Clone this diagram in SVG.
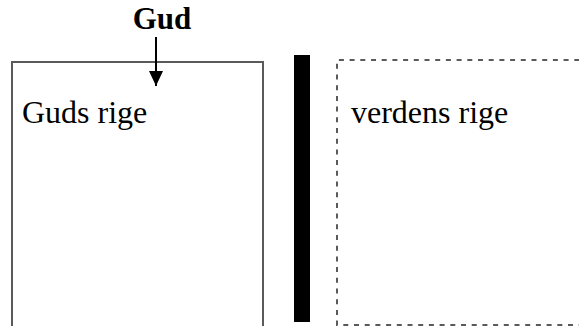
<svg xmlns="http://www.w3.org/2000/svg" width="579" height="326" viewBox="0 0 579 326">
  <style>
    .t { font-family: 'Liberation Serif', 'Times New Roman', 'DejaVu Serif', serif; font-size: 32px; fill: #000; }
    .b { font-weight: bold; font-size: 31px; }
    .box { fill: none; stroke: #5a5a5a; stroke-width: 2; }
    .dash { stroke-dasharray: 5 5.7; }
  </style>
  <defs>
    <marker id="ah" markerUnits="userSpaceOnUse" markerWidth="15" markerHeight="15" refX="15" refY="7" orient="auto">
      <path d="M0,0 L15,7 L0,14 Z" fill="#000"/>
    </marker>
  </defs>
  <rect width="579" height="326" fill="#fff"/>
  <g id="guds-rige">
    <path class="box" d="M12,330 L12,62 L263,62 L263,330"/>
    <text class="t" x="22" y="123">Guds rige</text>
  </g>
  <g id="bar">
    <rect x="294" y="55" width="16" height="267" fill="#000"/>
  </g>
  <g id="verdens-rige">
    <path class="box dash" d="M590,60 L337,60 L337,325 L590,325"/>
    <text class="t" x="351" y="123">verdens rige</text>
  </g>
  <g id="gud">
    <text class="t b" x="162" y="29" text-anchor="middle">Gud</text>
  </g>
  <g id="connectors">
    <line x1="156" y1="37" x2="156" y2="86" stroke="#000" stroke-width="2" marker-end="url(#ah)"/>
  </g>
</svg>
